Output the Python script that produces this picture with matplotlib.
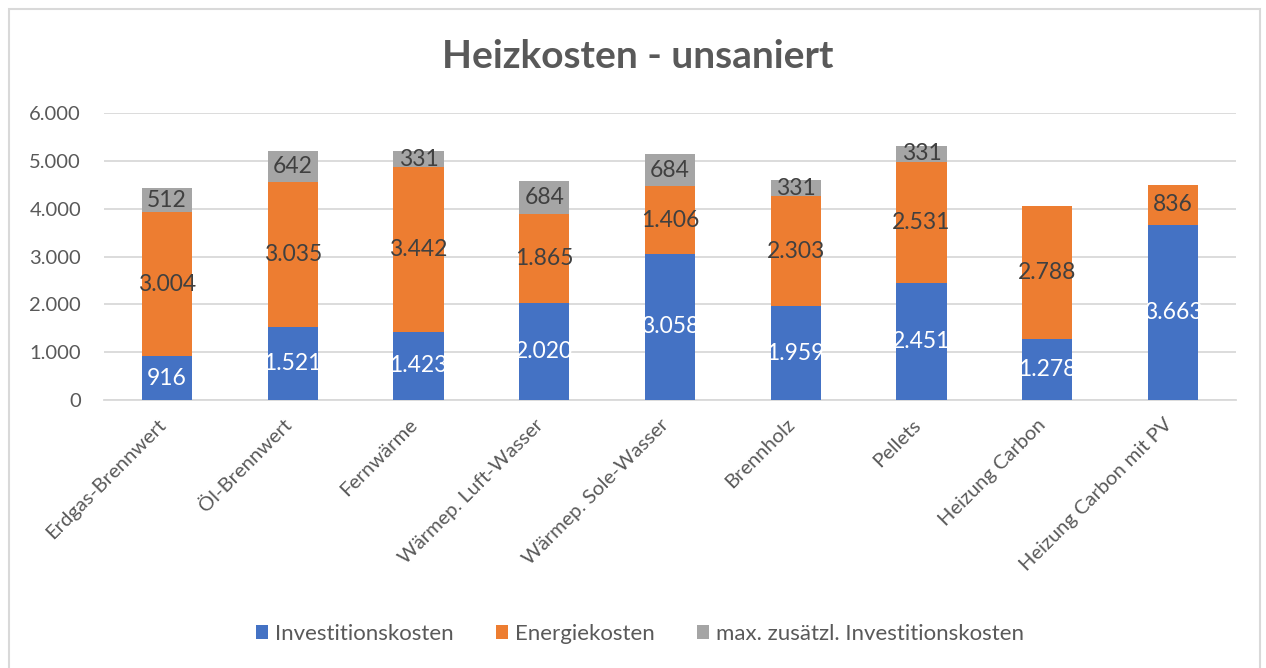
#!/usr/bin/env python3
"""Heizkosten - unsaniert: stacked bar chart"""

import matplotlib
matplotlib.use('Agg')
import matplotlib.pyplot as plt
import matplotlib.transforms as mtransforms
from matplotlib.patches import Rectangle
import numpy as np

plt.rcParams['font.family'] = ['Lato', 'DejaVu Sans']

# data
categories = ["Erdgas-Brennwert", "Öl-Brennwert", "Fernwärme", "Wärmep. Luft-Wasser",
              "Wärmep. Sole-Wasser", "Brennholz", "Pellets", "Heizung Carbon",
              "Heizung Carbon mit PV"]
invest = [916, 1521, 1423, 2020, 3058, 1959, 2451, 1278, 3663]
energie = [3004, 3035, 3442, 1865, 1406, 2303, 2531, 2788, 836]
zusatz = [512, 642, 331, 684, 684, 331, 331, 0, 0]
series_names = ["Investitionskosten", "Energiekosten", "max. zusätzl. Investitionskosten"]
y_ticks = [0, 1000, 2000, 3000, 4000, 5000, 6000]

BLUE = "#4472C4"
ORANGE = "#ED7D31"
GRAY = "#A5A5A5"
TEXT = "#595959"
DARK = "#404040"
GRID = "#D9D9D9"


def fmt(v):
    return f"{v:,}".replace(",", ".")


fig = plt.figure(figsize=(12.66, 6.68), dpi=100)
ax = fig.add_axes([104 / 1266, 268 / 668, 1132 / 1266, 287 / 668])

# outer chart border
fig.patches.append(Rectangle((9 / 1266, -0.01), 1251 / 1266, 1 - 9 / 668 + 0.01,
                             transform=fig.transFigure, fill=False,
                             edgecolor=GRID, lw=1.5))

x = np.arange(len(categories))
w = 0.4
b1 = ax.bar(x, invest, w, color=BLUE, label=series_names[0], zorder=3)
b2 = ax.bar(x, energie, w, bottom=invest, color=ORANGE, label=series_names[1], zorder=3)
bottom3 = np.array(invest) + np.array(energie)
b3 = ax.bar(x, zusatz, w, bottom=bottom3, color=GRAY, label=series_names[2], zorder=3)

# data labels
for bars, vals, col in ((b1, invest, "white"), (b2, energie, DARK), (b3, zusatz, DARK)):
    for rect, v in zip(bars, vals):
        if v == 0:
            continue
        ax.text(rect.get_x() + rect.get_width() / 2, rect.get_y() + rect.get_height() / 2,
                fmt(v), ha='center', va='center', color=col, fontsize=16.5, zorder=4)

ax.set_xlim(-0.5, len(categories) - 0.5)
ax.set_ylim(0, 6000)
ax.set_yticks(y_ticks)
ax.set_yticklabels([fmt(t) for t in y_ticks])
ax.set_xticks(x)
ax.set_xticklabels(categories, rotation=45, ha='right', rotation_mode='anchor')
ax.tick_params(axis='both', length=0, colors=TEXT, labelsize=14.5)
ax.tick_params(axis='y', pad=16.5)
ax.tick_params(axis='x', pad=10)
# nudge rotated labels left like Excel does
shift = mtransforms.ScaledTranslation(-10 / 100, -2 / 100, fig.dpi_scale_trans)
for lbl in ax.get_xticklabels():
    lbl.set_transform(lbl.get_transform() + shift)
ax.grid(axis='y', color=GRID, lw=1.3, zorder=0)
for s in ("top", "right", "left"):
    ax.spines[s].set_visible(False)
ax.spines["bottom"].set_color(GRID)
ax.spines["bottom"].set_linewidth(1.3)

fig.text(638 / 1266, 1 - 57 / 668, "Heizkosten - unsaniert", ha='center', va='center',
         fontsize=28, fontweight='bold', color=TEXT)

fig.legend(handles=[b1, b2, b3], loc='center', bbox_to_anchor=(640 / 1266, 1 - 634 / 668),
           ncol=3, frameon=False, fontsize=16, labelcolor=TEXT,
           handlelength=0.55, handleheight=0.55, handletextpad=0.3, columnspacing=1.9)

fig.savefig("out.png", dpi=100)
